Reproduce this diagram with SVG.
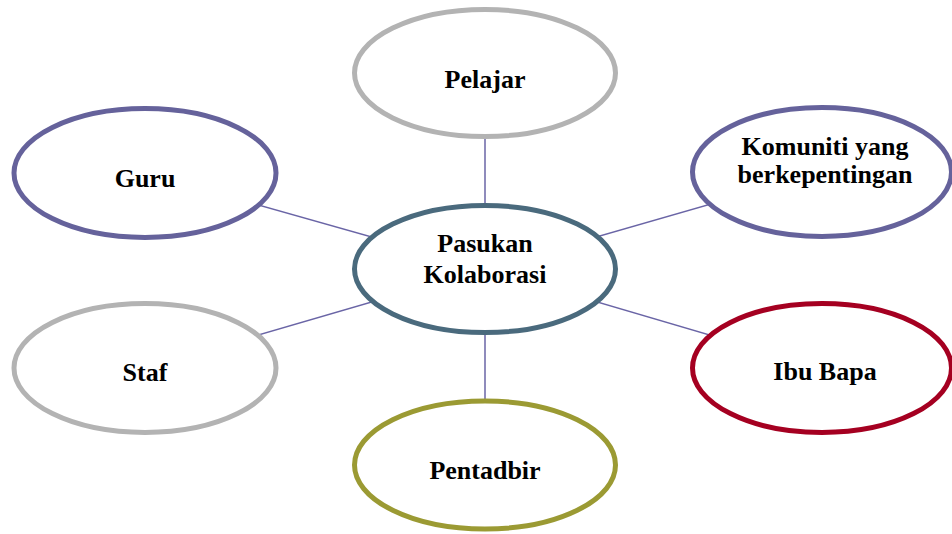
<svg xmlns="http://www.w3.org/2000/svg" width="952" height="534" viewBox="0 0 952 534">
<style>
.n{fill:#fff;stroke-width:5}
.t{font-family:"Liberation Serif","Times New Roman",serif;font-weight:bold;font-size:26px;fill:#000;text-anchor:middle}
.c line{stroke:#6a65a6;stroke-width:1.5}
</style>
<rect width="952" height="534" fill="#fff"/>
<g class="c" id="connectors">
<line x1="485" y1="269" x2="485" y2="73"/>
<line x1="485" y1="269" x2="145" y2="173"/>
<line x1="485" y1="269" x2="822" y2="172"/>
<line x1="485" y1="269" x2="145" y2="368"/>
<line x1="485" y1="269" x2="822" y2="368"/>
<line x1="485" y1="269" x2="485" y2="465"/>
</g>
<g id="pelajar"><ellipse class="n" cx="485" cy="73" rx="130.5" ry="63.5" stroke="#b3b3b3"/><text class="t" x="485" y="88">Pelajar</text></g>
<g id="guru"><ellipse class="n" cx="145" cy="173" rx="131" ry="64.5" stroke="#65629b"/><text class="t" x="145" y="187">Guru</text></g>
<g id="komuniti"><ellipse class="n" cx="822" cy="172" rx="129.5" ry="64.5" stroke="#65629b"/><text class="t" x="825" y="155">Komuniti yang</text><text class="t" x="825" y="183">berkepentingan</text></g>
<g id="pasukan"><ellipse class="n" cx="485" cy="269" rx="130.5" ry="63.5" stroke="#4a6a7d"/><text class="t" x="485" y="252">Pasukan</text><text class="t" x="485" y="283">Kolaborasi</text></g>
<g id="staf"><ellipse class="n" cx="145" cy="368" rx="131" ry="64.5" stroke="#b3b3b3"/><text class="t" x="145" y="381">Staf</text></g>
<g id="ibubapa"><ellipse class="n" cx="822" cy="368" rx="129.5" ry="64.5" stroke="#a50021"/><text class="t" x="825" y="380">Ibu Bapa</text></g>
<g id="pentadbir"><ellipse class="n" cx="485" cy="465" rx="130.5" ry="64" stroke="#9b9a33"/><text class="t" x="485" y="479">Pentadbir</text></g>
</svg>
